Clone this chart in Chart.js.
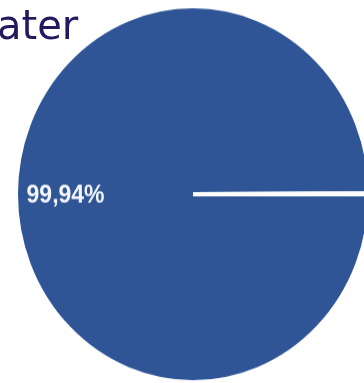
<!DOCTYPE html>
<html>
<head>
<meta charset="utf-8">
<script src="https://cdn.jsdelivr.net/npm/chart.js@4"></script>
<style>
    html, body {
        margin: 0;
        padding: 0;
        background: #ffffff;
        width: 364px;
        height: 383px;
        overflow: hidden;
        position: relative;
    }
    #title {
        position: absolute;
        left: -40px;
        top: 5px;
        font-family: "DejaVu Sans", sans-serif;
        font-size: 40px;
        line-height: 40px;
        color: #24195e;
        white-space: nowrap;
        z-index: 2;
    }
    #chart-wrap {
        position: absolute;
        left: -3px;
        top: 4px;
        width: 392px;
        height: 358px;
        transform: scaleY(1.0625);
        transform-origin: 0 0;
    }
</style>
</head>
<body>
<div id="title">Water</div>
<div id="chart-wrap"><canvas id="waterChart" width="392" height="358"></canvas></div>

<script>
// Share of the total, in percent
const categories = ["Main share", "Remainder"];
const shares = [99.94, 0.06];
const sliceColors = ["#2f5597", "#ffffff"];

// writes the percentage inside each large slice
const sliceLabels = {
    id: "sliceLabels",
    afterDatasetsDraw(chart) {
        const ctx = chart.ctx;
        const arcs = chart.getDatasetMeta(0).data;
        ctx.save();
        ctx.font = "bold 23px 'Liberation Sans', Arial, sans-serif";
        ctx.fillStyle = "#f4f6fb";
        ctx.textAlign = "center";
        ctx.textBaseline = "middle";
        arcs.forEach(function (arc, i) {
            if (shares[i] < 1) return; // too small to label
            const p = arc.getProps(["x", "y", "startAngle", "endAngle", "outerRadius"], true);
            const mid = (p.startAngle + p.endAngle) / 2;
            const r = p.outerRadius * 0.72;
            const text = shares[i].toFixed(2).replace(".", ",") + "%";
            ctx.fillText(text, p.x + Math.cos(mid) * r, p.y + Math.sin(mid) * r + 1);
        });
        ctx.restore();
    }
};

document.addEventListener("DOMContentLoaded", function () {
    const ctx = document.getElementById("waterChart").getContext("2d");

    new Chart(ctx, {
        type: "pie",
        data: {
            labels: categories,
            datasets: [
                {
                    data: shares,
                    backgroundColor: sliceColors,
                    borderColor: "#ffffff",
                    borderWidth: 4,
                    hoverOffset: 0,
                },
            ],
        },
        options: {
            responsive: false,
            animation: false,
            rotation: 90, // first slice starts at 3 o'clock
            layout: { padding: 0 },
            plugins: {
                legend: { display: false },
                title: { display: false },
                tooltip: { enabled: false },
            },
        },
        plugins: [sliceLabels],
    });
});
</script>
</body>
</html>
